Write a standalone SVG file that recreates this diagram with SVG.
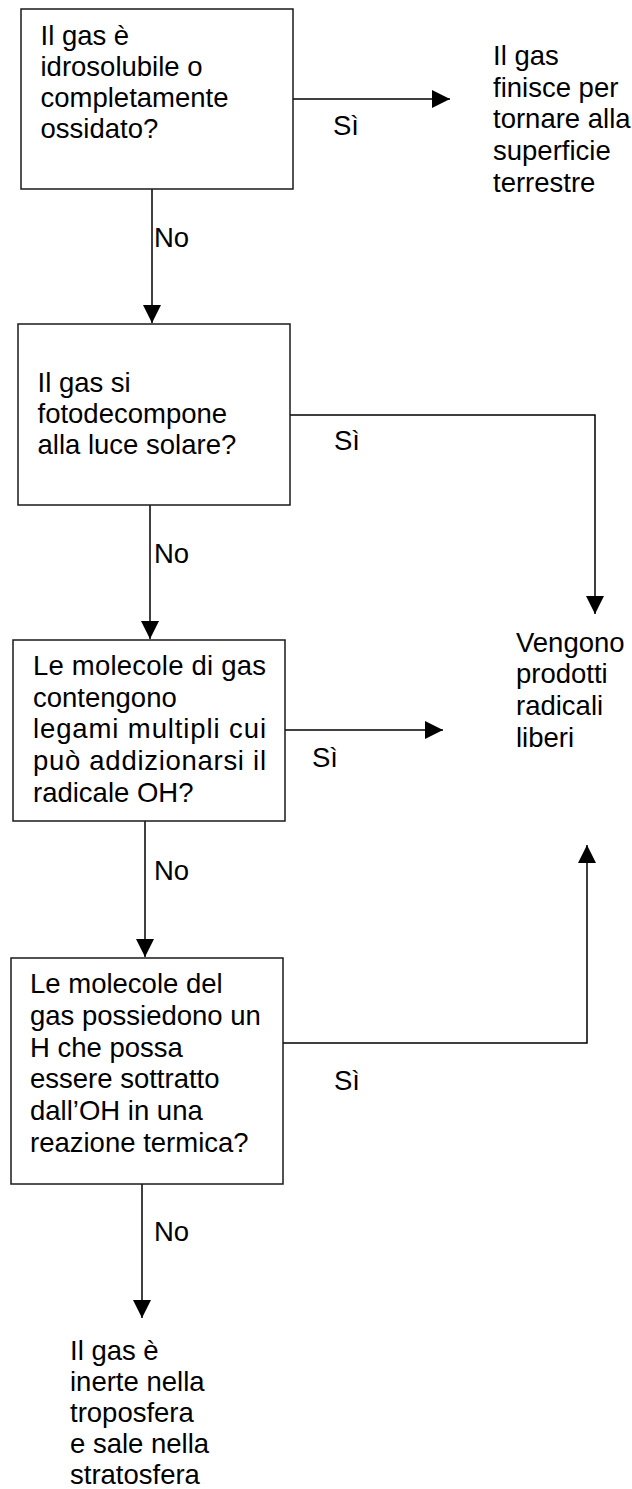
<svg xmlns="http://www.w3.org/2000/svg" width="632" height="1489" viewBox="0 0 632 1489">
<style>
  .box { fill: #fff; stroke: #1a1a1a; stroke-width: 1.5; }
  .t { font-family: "Liberation Sans", Arial, sans-serif; font-size: 27.5px; fill: #000; }
  .c { fill: none; stroke: #000; stroke-width: 1.5; }
</style>
<defs>
  <marker id="ah" viewBox="0 0 18 18" refX="18" refY="9" markerWidth="18" markerHeight="18" markerUnits="userSpaceOnUse" orient="auto">
    <path d="M0,0 L18,9 L0,18 Z" fill="#000"/>
  </marker>
</defs>
<rect width="632" height="1489" fill="#fff"/>

<g id="connectors">
  <path class="c" d="M293,99 H450" marker-end="url(#ah)"/>
  <path class="c" d="M152,189 V323" marker-end="url(#ah)"/>
  <path class="c" d="M290,415 H595 V614" marker-end="url(#ah)"/>
  <path class="c" d="M150,505 V639" marker-end="url(#ah)"/>
  <path class="c" d="M285,730 H443" marker-end="url(#ah)"/>
  <path class="c" d="M145,821 V957" marker-end="url(#ah)"/>
  <path class="c" d="M283,1043 H587 V845" marker-end="url(#ah)"/>
  <path class="c" d="M142,1184 V1318" marker-end="url(#ah)"/>
  <text class="t" x="333" y="135">Sì</text>
  <text class="t" x="154" y="247">No</text>
  <text class="t" x="334" y="450">Sì</text>
  <text class="t" x="154" y="563">No</text>
  <text class="t" x="312" y="767">Sì</text>
  <text class="t" x="154" y="880">No</text>
  <text class="t" x="334" y="1090">Sì</text>
  <text class="t" x="154" y="1241">No</text>
</g>

<g id="q1">
  <rect class="box" x="21" y="9" width="272" height="180"/>
  <text class="t" x="40.5" y="45">Il gas è</text>
  <text class="t" x="40.5" y="76">idrosolubile o</text>
  <text class="t" x="40.5" y="107">completamente</text>
  <text class="t" x="40.5" y="138">ossidato?</text>
</g>

<g id="r1">
  <text class="t" x="493" y="65">Il gas</text>
  <text class="t" x="493" y="97">finisce per</text>
  <text class="t" x="493" y="128">tornare alla</text>
  <text class="t" x="493" y="160">superficie</text>
  <text class="t" x="493" y="192">terrestre</text>
</g>

<g id="q2">
  <rect class="box" x="18" y="324" width="272" height="181"/>
  <text class="t" x="37.5" y="392">Il gas si</text>
  <text class="t" x="37.5" y="423">fotodecompone</text>
  <text class="t" x="37.5" y="454">alla luce solare?</text>
</g>

<g id="q3">
  <rect class="box" x="13" y="640" width="272" height="181"/>
  <text class="t" x="33" y="675" textLength="233" lengthAdjust="spacing">Le molecole di gas</text>
  <text class="t" x="33" y="707">contengono</text>
  <text class="t" x="33" y="738" textLength="233" lengthAdjust="spacing">legami multipli cui</text>
  <text class="t" x="33" y="770" textLength="233" lengthAdjust="spacing">può addizionarsi il</text>
  <text class="t" x="33" y="802">radicale OH?</text>
</g>

<g id="r2">
  <text class="t" x="516" y="652">Vengono</text>
  <text class="t" x="516" y="683">prodotti</text>
  <text class="t" x="516" y="715">radicali</text>
  <text class="t" x="516" y="747">liberi</text>
</g>

<g id="q4">
  <rect class="box" x="11" y="958" width="272" height="226"/>
  <text class="t" x="30" y="993">Le molecole del</text>
  <text class="t" x="30" y="1025">gas possiedono un</text>
  <text class="t" x="30" y="1057">H che possa</text>
  <text class="t" x="30" y="1088">essere sottratto</text>
  <text class="t" x="30" y="1120">dall’OH in una</text>
  <text class="t" x="30" y="1152">reazione termica?</text>
</g>

<g id="r3">
  <text class="t" x="70" y="1360">Il gas è</text>
  <text class="t" x="70" y="1391">inerte nella</text>
  <text class="t" x="70" y="1422">troposfera</text>
  <text class="t" x="70" y="1453">e sale nella</text>
  <text class="t" x="70" y="1484">stratosfera</text>
</g>
</svg>
